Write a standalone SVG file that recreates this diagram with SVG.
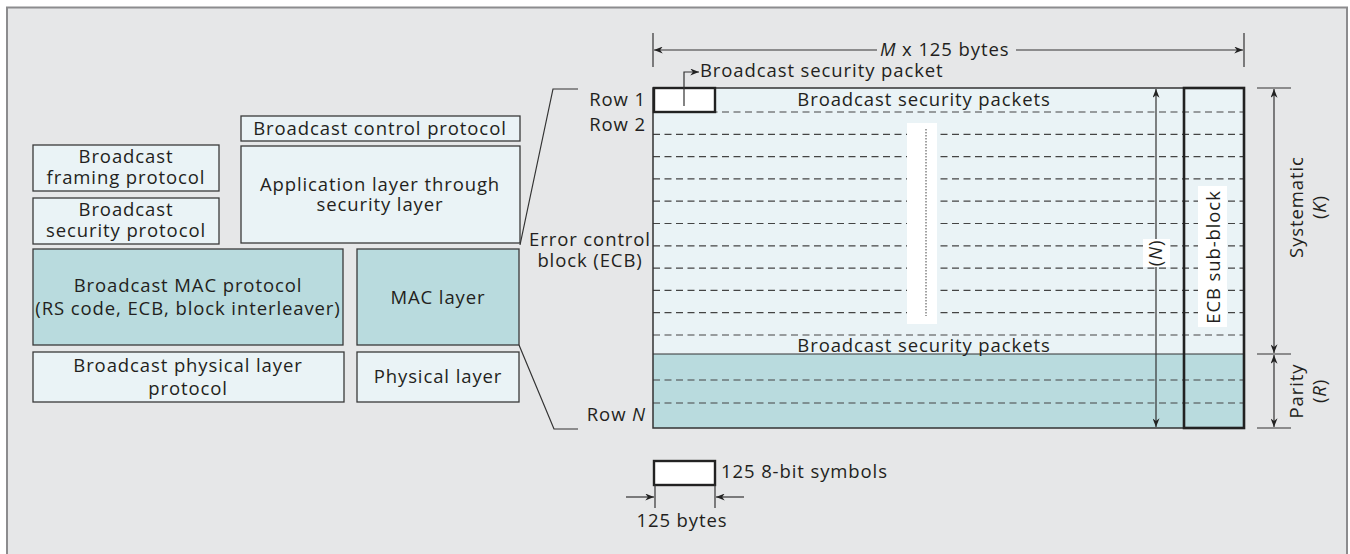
<svg xmlns="http://www.w3.org/2000/svg" width="1350" height="554" viewBox="0 0 1350 554">
<defs>
<style>
text{font-family:"Open Sans","Noto Sans","DejaVu Sans",sans-serif;font-size:18.5px;fill:#231f20;letter-spacing:0.9px}
.mid{text-anchor:middle}
.end{text-anchor:end}
.box{fill:#eaf3f6;stroke:#3a3a3a;stroke-width:1.3}
.teal{fill:#b9dbde;stroke:#3a3a3a;stroke-width:1.3}
.ln{fill:none;stroke:#333;stroke-width:1.2}
.dash{fill:none;stroke:#444;stroke-width:1.2;stroke-dasharray:7 4.5}
.arr{fill:none;stroke:#333;stroke-width:1.2;marker-end:url(#ah)}
.arr2{fill:none;stroke:#333;stroke-width:1.2;marker-start:url(#ah);marker-end:url(#ah)}
</style>
<marker id="ah" viewBox="0 0 10 8" refX="10" refY="4" markerWidth="9" markerHeight="7" markerUnits="userSpaceOnUse" orient="auto-start-reverse">
<path d="M0,0 L10,4 L0,8 L3,4 z" fill="#222"/>
</marker>
</defs>
<rect x="0" y="0" width="1350" height="554" fill="#ffffff"/>
<rect x="7" y="7.5" width="1340" height="560" fill="#e6e7e8" stroke="#8c8c8e" stroke-width="2"/>

<g id="n-framing"><rect class="box" x="33" y="145" width="186" height="46"/><text class="mid" x="126" y="163">Broadcast<tspan x="126" dy="21">framing protocol</tspan></text></g>
<g id="n-security"><rect class="box" x="33" y="198" width="186" height="46"/><text class="mid" x="126" y="216">Broadcast<tspan x="126" dy="21">security protocol</tspan></text></g>
<g id="n-control"><rect class="box" x="241" y="116" width="279" height="25"/><text class="mid" x="380" y="135">Broadcast control protocol</text></g>
<g id="n-app"><rect class="box" x="241" y="146" width="279" height="97"/><text class="mid" x="380" y="191">Application layer through<tspan x="380" dy="20">security layer</tspan></text></g>
<g id="n-bmac"><rect class="teal" x="33" y="249" width="310" height="96"/><text class="mid" x="188" y="292">Broadcast MAC protocol<tspan x="188" dy="23">(RS code, ECB, block interleaver)</tspan></text></g>
<g id="n-mac"><rect class="teal" x="357" y="249" width="162" height="96"/><text class="mid" x="438" y="304">MAC layer</text></g>
<g id="n-bphy"><rect class="box" x="33" y="352" width="311" height="50"/><text class="mid" x="188" y="372">Broadcast physical layer<tspan x="188" dy="23">protocol</tspan></text></g>
<g id="n-phy"><rect class="box" x="357" y="352" width="162" height="50"/><text class="mid" x="438" y="383">Physical layer</text></g>

<g id="n-ecb">
<rect x="653" y="88" width="591" height="266" fill="#eaf3f6"/>
<rect x="653" y="354" width="591" height="74" fill="#b9dbde"/>
<g class="dash">
<line x1="653" y1="112" x2="1244" y2="112"/>
<line x1="653" y1="134.3" x2="1244" y2="134.3"/>
<line x1="653" y1="156.6" x2="1244" y2="156.6"/>
<line x1="653" y1="178.9" x2="1244" y2="178.9"/>
<line x1="653" y1="201.2" x2="1244" y2="201.2"/>
<line x1="653" y1="223.5" x2="1244" y2="223.5"/>
<line x1="653" y1="245.8" x2="1244" y2="245.8"/>
<line x1="653" y1="268.1" x2="1244" y2="268.1"/>
<line x1="653" y1="290.4" x2="1244" y2="290.4"/>
<line x1="653" y1="312.7" x2="1244" y2="312.7"/>
<line x1="653" y1="335" x2="1244" y2="335"/>
<line x1="653" y1="380" x2="1244" y2="380"/>
<line x1="653" y1="403" x2="1244" y2="403"/>
</g>
<rect x="907" y="123" width="30" height="201" fill="#ffffff"/>
<line x1="926" y1="129" x2="926" y2="316" stroke="#444" stroke-width="1" stroke-dasharray="1.5 1.5"/>
<line class="ln" x1="653" y1="354" x2="1244" y2="354" stroke-width="1.5"/>
<rect x="653" y="88" width="591" height="340" fill="none" stroke="#333" stroke-width="1.5"/>
<rect x="1184" y="88" width="60" height="340" fill="none" stroke="#222" stroke-width="2.6"/>
<rect x="654" y="88" width="61" height="24" fill="#ffffff" stroke="#222" stroke-width="2.4"/>
<text class="mid" x="924" y="106">Broadcast security packets</text>
<text class="mid" x="924" y="352">Broadcast security packets</text>
<rect x="1198" y="186" width="29" height="141" fill="#ffffff"/>
<text class="mid" transform="translate(1220,257) rotate(-90)">ECB sub-block</text>
</g>

<g id="labels">
<text class="end" x="646" y="106">Row 1</text>
<text class="end" x="646" y="131">Row 2</text>
<text class="mid" x="590" y="246">Error control<tspan x="590" dy="21">block (ECB)</tspan></text>
<text class="end" x="646" y="421">Row <tspan font-style="italic">N</tspan></text>
<text x="880" y="56"><tspan font-style="italic">M</tspan> x 125 bytes</text>
<text x="700" y="77">Broadcast security packet</text>
<text transform="translate(1303,207) rotate(-90)" class="mid">Systematic<tspan x="0" dy="23">(</tspan><tspan font-style="italic">K</tspan>)</text>
<text transform="translate(1303,391) rotate(-90)" class="mid">Parity<tspan x="0" dy="23">(</tspan><tspan font-style="italic">R</tspan>)</text>
<rect x="654" y="461" width="61" height="24" fill="#ffffff" stroke="#222" stroke-width="2.4"/>
<text x="721" y="478">125 8-bit symbols</text>
<text class="mid" x="682" y="527">125 bytes</text>
</g>

<g id="connectors">
<polyline class="ln" points="578,89 553,89 520,245"/>
<polyline class="ln" points="519,345 554,429 578,429"/>
<line class="ln" x1="653" y1="33" x2="653" y2="67"/>
<line class="ln" x1="1244" y1="33" x2="1244" y2="67"/>
<line class="arr" x1="877" y1="50" x2="654" y2="50"/>
<line class="arr" x1="1016" y1="50" x2="1243" y2="50"/>
<polyline class="arr" points="684,106 684,72 699,72"/>
<line class="arr2" x1="1156" y1="89" x2="1156" y2="427"/>
<rect x="1143" y="239" width="27" height="28" fill="#ffffff"/>
<text class="mid" transform="translate(1162,253) rotate(-90)">(<tspan font-style="italic">N</tspan>)</text>
<line class="ln" x1="1257" y1="88" x2="1291" y2="88"/>
<line class="ln" x1="1257" y1="354" x2="1291" y2="354"/>
<line class="ln" x1="1257" y1="428" x2="1291" y2="428"/>
<line class="arr2" x1="1274" y1="89" x2="1274" y2="353"/>
<line class="arr2" x1="1274" y1="355" x2="1274" y2="427"/>
<line class="ln" x1="655" y1="485" x2="655" y2="508"/>
<line class="ln" x1="715" y1="485" x2="715" y2="508"/>
<line class="arr" x1="626" y1="497" x2="654" y2="497"/>
<line class="arr" x1="744" y1="497" x2="716" y2="497"/>
</g>
</svg>
